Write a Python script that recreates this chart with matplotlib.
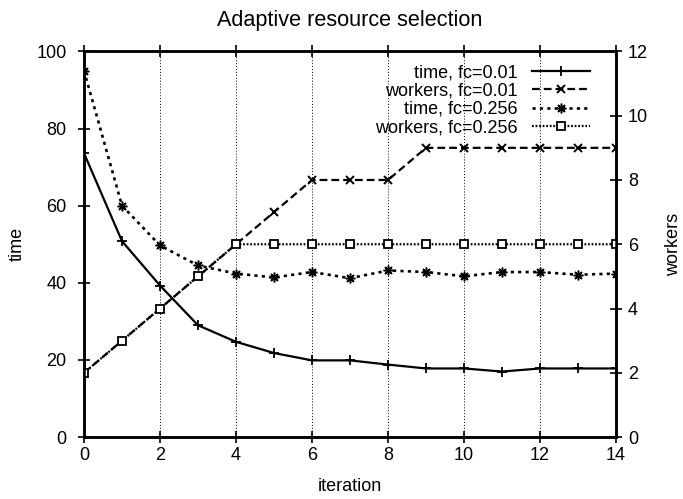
import matplotlib
matplotlib.use("Agg")
import matplotlib.pyplot as plt

plt.rcParams["font.family"] = ["Liberation Sans", "DejaVu Sans"]
plt.rcParams["font.size"] = 13

iteration = list(range(15))
time_fc001 = [73.6, 50.8, 39.3, 29.0, 24.7, 21.8, 19.9, 19.9, 18.8, 17.8, 17.8, 17.0, 17.8, 17.8, 17.8]
time_fc0256 = [95.0, 60.0, 49.7, 44.5, 42.4, 41.4, 42.8, 41.2, 43.2, 42.8, 41.7, 42.8, 42.8, 42.1, 42.4]
workers_fc001 = [2, 3, 4, 5, 6, 7, 8, 8, 8, 9, 9, 9, 9, 9, 9]
workers_fc0256 = [2, 3, 4, 5, 6, 6, 6, 6, 6, 6, 6, 6, 6, 6, 6]

fig = plt.figure(figsize=(6.83, 4.99), dpi=100)
ax1 = fig.add_axes([0.123, 0.124, 0.779, 0.773])
ax2 = ax1.twinx()

lw = 1.6
l1, = ax1.plot(iteration, time_fc001, color="black", lw=lw, linestyle="-",
               marker="+", markersize=6.5, markeredgewidth=1.3, label="time, fc=0.01")
l3, = ax1.plot(iteration, time_fc0256, color="black", lw=lw + 0.3, linestyle=(0, (1.2, 1.6)),
               marker=(8, 2, 0), markersize=7, markeredgewidth=1.1, label="time, fc=0.256")
l2, = ax2.plot(iteration, workers_fc001, color="black", lw=lw, linestyle=(0, (3.5, 1.8)),
               marker="x", markersize=5.5, markeredgewidth=1.4, label="workers, fc=0.01")
l4, = ax2.plot(iteration, workers_fc0256, color="black", lw=lw, linestyle=(0, (0.8, 0.8)),
               marker="s", markersize=5.2, markerfacecolor="white", markeredgewidth=1.3,
               label="workers, fc=0.256")

ax1.set_xlim(0, 14)
ax1.set_ylim(0, 100)
ax2.set_ylim(0, 12)
ax1.set_xticks(range(0, 15, 2))
ax1.set_yticks(range(0, 101, 20))
ax2.set_yticks(range(0, 13, 2))

ax1.grid(axis="x", color="black", linestyle=(0, (1, 2)), linewidth=0.7)

for ax in (ax1, ax2):
    for s in ax.spines.values():
        s.set_linewidth(1.8)
ax1.tick_params(axis="x", direction="inout", length=9, width=1.2, top=True, pad=2.5)
ax1.tick_params(axis="y", direction="inout", length=9, width=1.2, pad=8)
ax2.tick_params(axis="y", direction="inout", length=9, width=1.2, pad=4)

ax1.set_xlabel("iteration", labelpad=10)
ax1.set_ylabel("time", labelpad=8)
ax2.set_ylabel("workers", labelpad=12)
ax1.set_title("Adaptive resource selection", pad=18)

# entries sit right-aligned with the line samples after the text
leg = ax2.legend([l1, l2, l3, l4], [h.get_label() for h in (l1, l2, l3, l4)],
                 loc="upper right", bbox_to_anchor=(0.975, 1.0), frameon=False,
                 markerfirst=False, handlelength=3.2, numpoints=1,
                 labelspacing=0.08, handletextpad=0.8, borderpad=0.2)

fig.savefig("out.png", dpi=100)
